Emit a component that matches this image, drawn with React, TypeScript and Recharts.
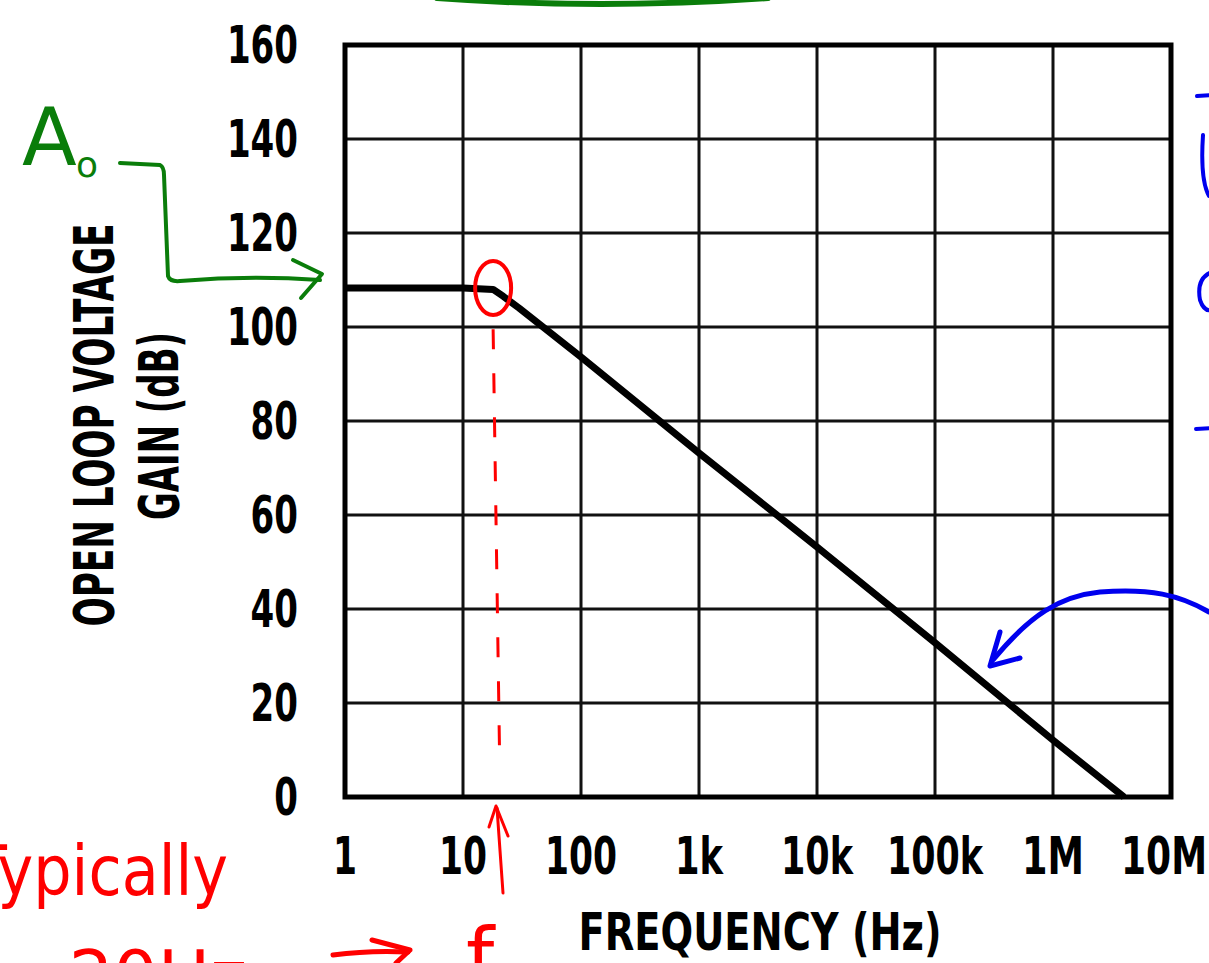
import React from "react";
import {
  LineChart,
  Line,
  XAxis,
  YAxis,
  CartesianGrid,
  ReferenceArea,
  ReferenceDot,
  ReferenceLine,
} from "recharts";

// open loop gain vs frequency
const freqHz = [1, 10, 18, 22, 30, 100, 1000, 10000, 100000, 1000000, 4000000];
const gainDb = [108.3, 108.3, 108.0, 106.5, 104.0, 93.6, 73.2, 53.2, 32.8, 12.1, 0];

const xTicks = [1, 10, 100, 1000, 10000, 100000, 1000000, 10000000];
const xTickLabels = ["1", "10", "100", "1k", "10k", "100k", "1M", "10M"];
const yTicks = [0, 20, 40, 60, 80, 100, 120, 140, 160];

const data = freqHz.map((f, i) => ({ f, gain: gainDb[i] }));

const W = 1209;
const H = 963;
const FONT = "'Liberation Sans Narrow', 'DejaVu Sans Condensed', 'Arial Narrow', sans-serif";
const HAND = "'DejaVu Sans', sans-serif";

const formatFreq = (v: number) => {
  const i = xTicks.indexOf(v);
  return i >= 0 ? xTickLabels[i] : String(v);
};

// the datasheet font is very condensed, so squeeze labels to its widths
const labelWidth = (s: string) =>
  s.split("").reduce((w, c) => w + (c === "M" ? 38 : 24), 0);

const XTick = (props: any) => {
  const label = formatFreq(props.payload.value);
  const w = labelWidth(label);
  const x = Math.min(props.x, W - 2 - w / 2);
  return (
    <text x={x} y={props.y} dy="0.71em" textAnchor="middle" fontFamily={FONT} fontWeight={700} fontSize={51} fill="#000" textLength={w} lengthAdjust="spacingAndGlyphs">
      {label}
    </text>
  );
};

const YTick = (props: any) => {
  const label = String(props.payload.value);
  return (
    <text x={props.x} y={props.y} dy="0.355em" textAnchor="end" fontFamily={FONT} fontWeight={700} fontSize={51} fill="#000" textLength={label.length * 23.7} lengthAdjust="spacingAndGlyphs">
      {label}
    </text>
  );
};

const YTitle = () => (
  <g fontFamily={FONT} fontWeight={700} fill="#000" fontSize={56}>
    <text transform="rotate(-90)" x={-425} y={113} textAnchor="middle" textLength={403} lengthAdjust="spacingAndGlyphs">
      OPEN LOOP VOLTAGE
    </text>
    <text transform="rotate(-90)" x={-426} y={178} textAnchor="middle" textLength={188} lengthAdjust="spacingAndGlyphs">
      GAIN (dB)
    </text>
  </g>
);

const XTitle = () => (
  <text x={760} y={950} textAnchor="middle" fontFamily={FONT} fontWeight={700} fontSize={51} fill="#000" textLength={363} lengthAdjust="spacingAndGlyphs">
    FREQUENCY (Hz)
  </text>
);

// hand-drawn notes scribbled over the plot
const Notes = () => (
  <svg width={W} height={H} style={{ position: "absolute", left: 0, top: 0, pointerEvents: "none" }}>
    <g fill="none" strokeLinecap="round" strokeLinejoin="round">
      <path d="M437 -2 Q600 10 768 -2" stroke="#0a7d0a" strokeWidth={6} />
      <path d="M120 163 L160 165 Q164 167 164 175 L168 276 Q170 282 180 281 Q250 275 320 280" stroke="#0a7d0a" strokeWidth={4} />
      <path d="M293 260 L322 274 L301 298" stroke="#0a7d0a" strokeWidth={4} />
      <path d="M503 893 L497 808" stroke="red" strokeWidth={3} />
      <path d="M489 827 L496 806 L508 836" stroke="red" strokeWidth={3} />
      <path d="M333 955 Q370 950 408 952" stroke="red" strokeWidth={5} />
      <path d="M372 940 L410 950 L396 963" stroke="red" strokeWidth={5} />
      <path d="M1209 612 C1180 595 1150 588 1100 592 C1060 596 1030 615 993 660" stroke="#0000ee" strokeWidth={5} />
      <path d="M1000 632 L990 666 L1020 658" stroke="#0000ee" strokeWidth={5} />
      <path d="M1197 96 L1212 95" stroke="#0000ee" strokeWidth={4} />
      <path d="M1203 135 Q1200 180 1209 196" stroke="#0000ee" strokeWidth={4} />
      <path d="M1212 272 Q1196 278 1200 300 Q1204 312 1212 310" stroke="#0000ee" strokeWidth={4} />
      <path d="M1196 429 L1212 428" stroke="#0000ee" strokeWidth={4} />
    </g>
    <g fontFamily={HAND}>
      <text x={22} y={165} fontSize={80} fill="#0a7d0a">A</text>
      <text x={76} y={177} fontSize={36} fill="#0a7d0a">o</text>
      <text x={-30} y={895} fontSize={70} fill="red" textLength={258} lengthAdjust="spacingAndGlyphs">Typically</text>
      <text x={10} y={1000} fontSize={70} fill="red">~20Hz</text>
      <text x={466} y={985} fontSize={80} fill="red">f</text>
    </g>
  </svg>
);

export default function App() {
  return (
    <div style={{ position: "absolute", left: 0, top: 0, width: W, height: H, background: "#fff" }}>
      <LineChart width={W} height={H} data={data} margin={{ top: 45, right: 38, bottom: 0, left: 0 }}>
        <CartesianGrid stroke="#111" strokeWidth={3} />
        <XAxis
          dataKey="f"
          type="number"
          scale="log"
          domain={[1, 10000000]}
          ticks={xTicks}
          interval={0}
          tickFormatter={formatFreq}
          height={166}
          tickSize={0}
          tickMargin={41}
          axisLine={false}
          tickLine={false}
          tick={<XTick />}
          allowDataOverflow
        />
        <YAxis
          type="number"
          domain={[0, 160]}
          ticks={yTicks}
          interval={0}
          width={345}
          tickSize={0}
          tickMargin={47}
          axisLine={false}
          tickLine={false}
          tick={<YTick />}
        />
        <ReferenceArea x1={1} x2={10000000} y1={0} y2={160} fill="none" stroke="#000" strokeWidth={5} ifOverflow="visible" />
        <Line
          dataKey="gain"
          type="linear"
          stroke="#000"
          strokeWidth={7}
          dot={false}
          activeDot={false}
          strokeLinejoin="round"
          isAnimationActive={false}
        />
        <ReferenceDot
          x={18}
          y={108.3}
          ifOverflow="visible"
          shape={(p: any) => (
            <ellipse cx={p.cx} cy={p.cy} rx={18} ry={27} fill="none" stroke="red" strokeWidth={4} />
          )}
        />
        <ReferenceLine
          segment={[
            { x: 18, y: 99.5 },
            { x: 20.5, y: 6 },
          ]}
          stroke="red"
          strokeWidth={3}
          strokeDasharray="20 24"
          ifOverflow="visible"
        />
      </LineChart>
      <svg width={W} height={H} style={{ position: "absolute", left: 0, top: 0, pointerEvents: "none" }}>
        <YTitle />
        <XTitle />
      </svg>
      <Notes />
    </div>
  );
}
